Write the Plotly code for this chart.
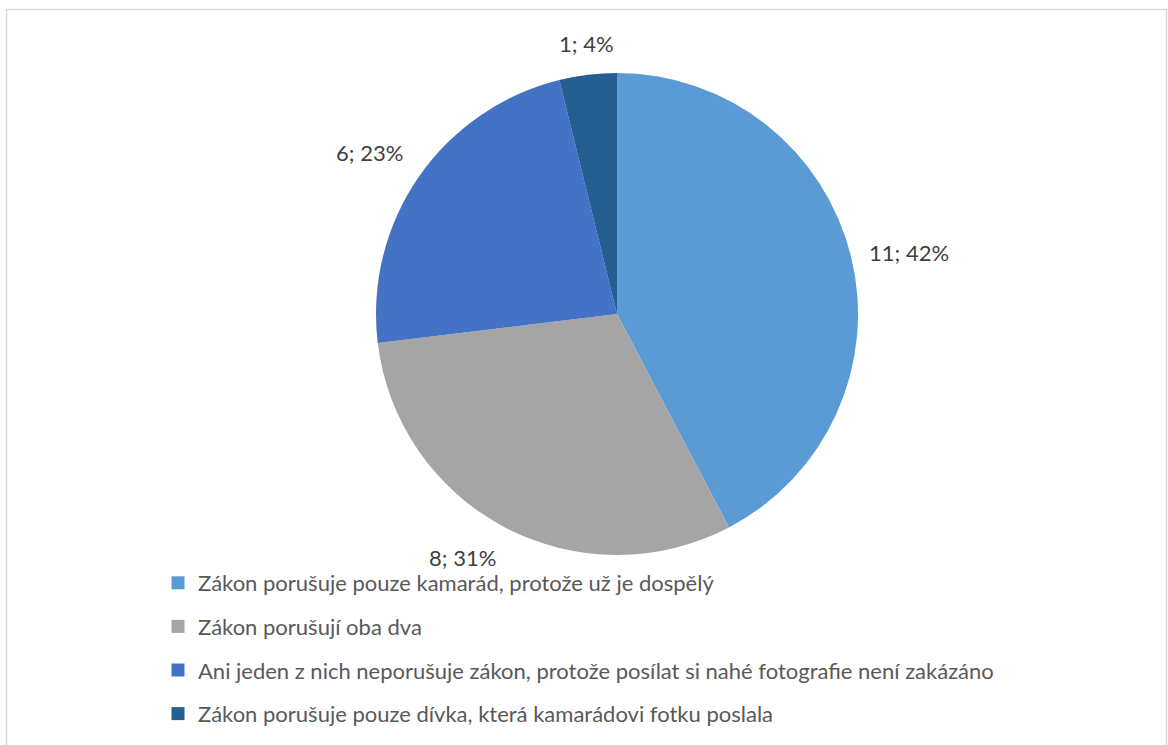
import math
import plotly.graph_objects as go

categories = [
    "Zákon porušuje pouze kamarád, protože už je dospělý",
    "Zákon porušují oba dva",
    "Ani jeden z nich neporušuje zákon, protože posílat si nahé fotografie není zakázáno",
    "Zákon porušuje pouze dívka, která kamarádovi fotku poslala",
]
values = [11, 8, 6, 1]
colors = ["#5B9BD5", "#A5A5A5", "#4472C4", "#255E91"]

W, H = 1168, 745
CX, CY, R = 617, 314, 241   # pie centre and radius in pixels
GAP = 16                    # gap between pie edge and data label

fig = go.Figure()
fig.add_trace(go.Pie(
    labels=categories,
    values=values,
    sort=False,
    direction="clockwise",
    rotation=0,
    marker=dict(colors=colors, line=dict(color="white", width=0)),
    textinfo="none",
    domain=dict(x=[(CX - R) / W, (CX + R) / W], y=[1 - (CY + R) / H, 1 - (CY - R) / H]),
    showlegend=False,
    hovertemplate="%{label}<br>%{value}; %{percent:.0%}<extra></extra>",
))

# legend proxies (one per category, so item spacing can be controlled)
for cat, col in zip(categories, colors):
    fig.add_trace(go.Scatter(
        x=[None], y=[None], mode="markers", name=cat, legendgroup=cat,
        marker=dict(symbol="square", size=13, color=col),
        showlegend=True, hoverinfo="skip",
    ))

# data labels positioned from slice angles (Excel style)
total = sum(values)
annotations = []
cum = 0
for v in values:
    mid = (cum + v / 2) / total * 2 * math.pi
    cum += v
    s, c = math.sin(mid), math.cos(mid)
    px = CX + (R + GAP) * s
    py = CY - (R + GAP) * c
    xa = "left" if s > 0.3 else ("right" if s < -0.3 else "center")
    ya = "bottom" if c > 0.3 else ("top" if c < -0.3 else "middle")
    pct = round(v / total * 100)
    annotations.append(dict(
        x=px / W, y=1 - py / H, xref="paper", yref="paper",
        xanchor=xa, yanchor=ya, showarrow=False,
        text=f"{v}; {pct}%",
        font=dict(family="Lato", size=22, color="#404040"),
    ))

fig.update_layout(
    width=W, height=H,
    margin=dict(l=0, r=0, t=0, b=0),
    paper_bgcolor="white",
    plot_bgcolor="white",
    xaxis=dict(visible=False),
    yaxis=dict(visible=False),
    legend=dict(
        x=158 / W, y=1 - 562 / H, xanchor="left", yanchor="top",
        font=dict(family="Lato", size=22, color="#595959"),
        orientation="v", traceorder="grouped", tracegroupgap=12,
        bgcolor="rgba(0,0,0,0)",
    ),
    annotations=annotations,
    shapes=[dict(type="rect", xref="paper", yref="paper",
                 x0=6.5 / W, x1=1166.5 / W, y0=-0.05, y1=1 - 9.5 / H,
                 line=dict(color="#D9D9D9", width=1.5), fillcolor="rgba(0,0,0,0)")],
)

fig.write_html(
    "out.html",
    config={"displayModeBar": False},
    post_script="document.body.style.margin='0';document.body.style.overflow='hidden';",
)
